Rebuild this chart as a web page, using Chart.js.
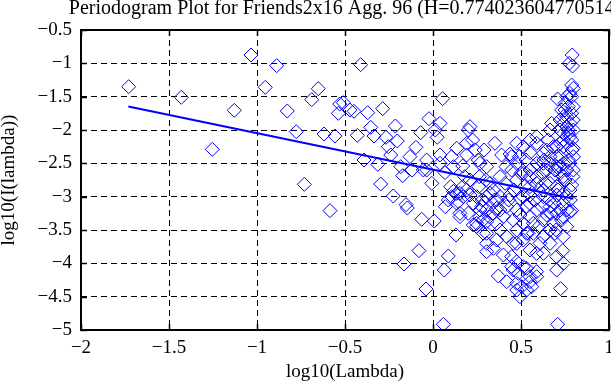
<!DOCTYPE html>
<html><head><meta charset="utf-8">
<script src="https://cdn.jsdelivr.net/npm/chart.js@4/dist/chart.umd.min.js"></script>
<style>html,body{margin:0;padding:0;background:#fff;overflow:hidden}#wrap{width:611px;height:385px;position:relative}</style>
</head><body><div id="wrap"><canvas id="c" width="611" height="385"></canvas></div>
<script>
const chartTitle = 'Periodogram Plot for Friends2x16 Agg. 96 (H=0.774023604770514)';
const xAxisTitle = 'log10(Lambda)';
const yAxisTitle = 'log10(I(lambda))';
const xTickLabels = ['\u22122','\u22121.5','\u22121','\u22120.5','0','0.5','1'];
const yTickLabels = ['\u22125','\u22124.5','\u22124','\u22123.5','\u22123','\u22122.5','\u22122','\u22121.5','\u22121','\u22120.5'];

// periodogram points: log10(frequency) and log10(power)
const logLambda = [
-1.729,-1.430,-1.254,-1.129,-1.034,-0.953,-0.888,-0.828,-0.777,-0.731,
-0.689,-0.652,-0.619,-0.557,-0.538,-0.530,-0.585,-0.411,-0.510,-0.472,
-0.449,-0.371,-0.286,-0.430,-0.354,-0.335,-0.214,-0.267,-0.203,-0.254,
-0.240,-0.392,-0.314,-0.297,-0.226,-0.183,-0.172,-0.119,-0.131,-0.097,
-0.070,-0.023,0.040,0.013,0.024,0.055,-0.036,-0.036,-0.007,0.040,
0.068,0.106,0.135,0.169,0.201,0.210,0.225,0.191,0.240,0.191,
0.257,0.290,0.352,0.305,0.263,0.210,0.169,0.135,0.390,0.438,
0.415,0.381,0.447,0.324,0.476,0.490,0.528,0.551,0.589,0.627,
0.665,0.655,0.708,0.674,0.722,0.750,0.769,0.760,0.788,0.797,
0.788,0.791,0.774,0.793,0.769,0.741,0.778,0.797,0.741,0.703,
0.722,0.778,0.703,0.646,0.589,0.551,0.589,0.741,0.788,0.665,
0.551,0.627,0.741,0.513,
-0.153,-0.146,-0.064,0.007,0.153,0.131,-0.080,-0.165,0.087,0.064,
-0.040,0.059,0.708,0.725,0.703,0.741,0.703,0.737,0.778,0.494,
0.476,0.504,0.589,0.551,0.561,0.371,0.419,0.447,0.456,0.532,
0.589,0.305,0.343,0.400,0.447,0.476,0.551,0.627,0.608,0.665,
0.693,0.627,0.570,0.513,0.456,0.419,0.362,0.305,0.286,0.248,
0.267,0.305,0.362,0.400,0.456,0.513,0.570,0.627,0.684,0.741,
0.760,0.722,0.665,0.589,0.532,0.476,0.419,0.362,0.305,0.277,
0.248,0.381,0.476,0.532,0.665,0.589,0.476,0.513,0.485,0.551,
0.476,0.532,0.106,0.087,0.172,0.144,0.210,0.248,0.324,0.381,
0.438,0.494,0.551,0.627,0.703,0.760,0.788,0.741,0.703,0.646,
0.551,0.494,0.343,0.229,
0.741,0.731,0.750,0.760,0.778,0.741,0.722,0.760,0.778,0.788,
0.797,0.797,0.769,0.798,0.741,0.722,0.760,0.788,0.798,0.741,
0.703,0.665,0.684,0.646,0.627,0.665,0.693,0.722,0.760,0.797,
0.627,0.589,0.703,0.778,0.551,0.513,0.476,0.513,0.551,0.476,
0.447,0.589,
-0.055,0.153,0.116,0.191,0.135,0.343,0.305,0.362,0.153,0.267,
0.286,0.305,0.267,0.040,0.116,
0.52,0.55,0.58,0.60,0.62,0.64,0.66,0.68,0.69,0.71,
0.72,0.73,0.75,0.76,0.77,0.78,0.79,0.795,0.57,0.60,
0.63,0.67,0.70,0.74,0.54,0.50,0.46,0.43,0.41,0.38,
0.35,0.32,0.30,0.28,0.26,0.23,0.20,0.18,0.10,0.07
];
const logPower = [
-1.35,-1.51,-2.29,-1.705,-0.875,-1.36,-1.035,-1.715,-2.025,-2.815,
-1.545,-1.38,-2.06,-2.09,-1.75,-1.61,-3.21,-1.02,-1.59,-1.70,
-1.72,-1.74,-1.68,-2.08,-1.96,-2.09,-1.94,-2.11,-2.165,-2.25,
-2.375,-2.45,-2.515,-2.81,-2.99,-2.55,-2.685,-2.60,-2.40,-2.26,
-2.04,-1.83,-1.90,-2.00,-2.11,-1.53,-2.45,-2.60,-2.80,-2.375,
-2.64,-2.40,-2.275,-2.54,-2.00,-1.95,-2.15,-2.20,-2.30,-2.375,
-2.45,-2.30,-2.20,-2.55,-2.70,-2.75,-2.85,-2.95,-2.375,-2.36,
-2.55,-2.70,-2.60,-2.80,-2.75,-2.40,-2.45,-2.34,-2.20,-2.35,
-2.00,-2.15,-1.535,-1.90,-1.85,-1.70,-1.65,-1.80,-1.50,-1.375,
-1.325,-0.875,-1.00,-1.04,-2.00,-2.05,-2.10,-2.275,-2.25,-2.25,
-2.40,-2.50,-2.55,-2.60,-2.50,-2.60,-2.70,-2.70,-2.825,-2.80,
-2.85,-2.90,-2.95,-3.00,
-3.12,-3.17,-3.34,-3.365,-3.30,-3.575,-3.81,-4.01,-3.89,-4.10,
-4.385,-4.915,-4.915,-4.38,-4.10,-4.00,-3.90,-3.81,-3.225,-4.50,
-4.40,-4.35,-4.20,-4.275,-4.35,-4.19,-4.275,-4.05,-4.10,-4.075,
-4.125,-3.825,-3.775,-3.875,-3.90,-3.70,-3.80,-3.85,-3.70,-3.70,
-3.55,-3.60,-3.55,-3.65,-3.70,-3.60,-3.65,-3.70,-3.55,-3.45,
-3.30,-3.375,-3.40,-3.30,-3.35,-3.40,-3.40,-3.35,-3.40,-3.30,
-3.45,-3.20,-3.15,-3.20,-3.15,-3.20,-3.15,-3.175,-3.20,-3.15,
-3.40,-3.50,-3.50,-3.55,-3.50,-3.85,-3.975,-4.05,-4.15,-4.20,
-4.30,-4.40,-3.00,-3.05,-3.00,-3.075,-2.975,-3.00,-2.95,-3.00,
-2.975,-3.025,-2.975,-3.00,-2.975,-3.00,-3.21,-3.10,-3.25,-3.275,
-3.30,-3.275,-3.25,-3.425,
-1.80,-1.70,-1.60,-1.50,-1.45,-1.90,-2.00,-1.95,-1.90,-1.75,
-1.65,-1.85,-2.05,-2.00,-2.15,-2.20,-2.20,-2.15,-2.40,-2.50,
-2.40,-2.40,-2.25,-2.30,-2.50,-2.50,-2.60,-2.65,-2.60,-2.60,
-2.65,-2.80,-2.85,-2.90,-2.70,-2.65,-2.50,-2.25,-2.15,-2.20,
-2.40,-2.10,
-2.60,-2.95,-2.92,-2.90,-3.10,-2.90,-3.00,-3.05,-3.25,-3.20,
-3.35,-3.55,-2.50,-2.50,-2.55,
-2.85,-3.10,-3.05,-2.90,-3.15,-2.80,-3.05,-2.70,-3.10,-2.90,
-2.55,-3.35,-2.75,-3.20,-2.45,-3.05,-2.30,-2.70,-2.55,-3.45,
-2.45,-3.25,-3.50,-3.60,-3.55,-2.65,-2.90,-3.05,-2.80,-3.20,
-3.05,-3.30,-2.75,-3.05,-2.85,-3.10,-3.25,-2.70,-2.85,-3.15
];
// least-squares fit line endpoints
const fitLogLambda = [-1.731, 0.798];
const fitLogPower = [-1.646, -3.031];

const serif = '"Liberation Serif", "Times New Roman", serif';
Chart.defaults.font.family = serif;
Chart.defaults.font.size = 19;
Chart.defaults.color = '#000';

const framePlugin = {
  id: 'frame',
  afterDraw(chart) {
    const ctx = chart.ctx, a = chart.chartArea;
    const xs = chart.scales.x, ys = chart.scales.y;
    ctx.save();
    ctx.strokeStyle = '#000';
    ctx.lineWidth = 1.5;
    ctx.beginPath();
    xs.ticks.forEach(t => {
      const p = Math.round(xs.getPixelForValue(t.value)) + 0.5;
      ctx.moveTo(p, a.bottom); ctx.lineTo(p, a.bottom - 6);
      ctx.moveTo(p, a.top); ctx.lineTo(p, a.top + 6);
    });
    ys.ticks.forEach(t => {
      const p = Math.round(ys.getPixelForValue(t.value)) + 0.5;
      ctx.moveTo(a.left, p); ctx.lineTo(a.left + 6, p);
      ctx.moveTo(a.right, p); ctx.lineTo(a.right - 6, p);
    });
    ctx.stroke();
    ctx.lineWidth = 2;
    ctx.strokeRect(a.left, a.top, a.right - a.left, a.bottom - a.top);
    ctx.fillStyle = '#000';
    ctx.font = '20px ' + serif;
    ctx.textAlign = 'center';
    ctx.textBaseline = 'alphabetic';
    ctx.fillText(chartTitle, (a.left + a.right) / 2, 14);
    ctx.restore();
  }
};

const points = logLambda.map((x, i) => ({x: x, y: logPower[i]}));
const fitPoints = fitLogLambda.map((x, i) => ({x: x, y: fitLogPower[i]}));

new Chart(document.getElementById('c'), {
  type: 'scatter',
  data: {
    datasets: [
      {
        type: 'line', data: fitPoints, borderColor: '#0000ff', borderWidth: 2,
        pointRadius: 0, fill: false, order: 0
      },
      {
        type: 'scatter', data: points, pointStyle: 'rectRot', pointRadius: 7,
        borderColor: '#0000ff', backgroundColor: 'rgba(0,0,0,0)', borderWidth: 1,
        order: 1
      }
    ]
  },
  options: {
    responsive: false,
    animation: false,
    devicePixelRatio: 1,
    layout: {autoPadding: false, padding: {top: 30, right: 2, left: 0, bottom: 0}},
    plugins: {legend: {display: false}, tooltip: {enabled: false}, title: {display: false}},
    scales: {
      x: {
        type: 'linear', position: 'bottom', min: -2, max: 1,
        afterFit(s) { s.height = 55; s.paddingLeft = 0; s.paddingRight = 0; },
        ticks: {stepSize: 0.5, padding: 7, maxRotation: 0, autoSkip: false,
                callback: (v, i) => xTickLabels[i]},
        grid: {color: '#000', lineWidth: 1, drawTicks: false},
        border: {display: false, dash: [6, 4]},
        title: {display: true, text: xAxisTitle, padding: {top: 0, bottom: 2}}
      },
      y: {
        type: 'linear', position: 'left', min: -5, max: -0.5,
        afterFit(s) { s.width = 81; s.paddingTop = 0; s.paddingBottom = 0; },
        ticks: {stepSize: 0.5, padding: 9, autoSkip: false,
                callback: (v, i) => yTickLabels[i]},
        grid: {color: '#000', lineWidth: 1, drawTicks: false},
        border: {display: false, dash: [6, 4]},
        title: {display: true, text: yAxisTitle, padding: {top: -2, bottom: 0}}
      }
    }
  },
  plugins: [framePlugin]
});
</script>
</body></html>
